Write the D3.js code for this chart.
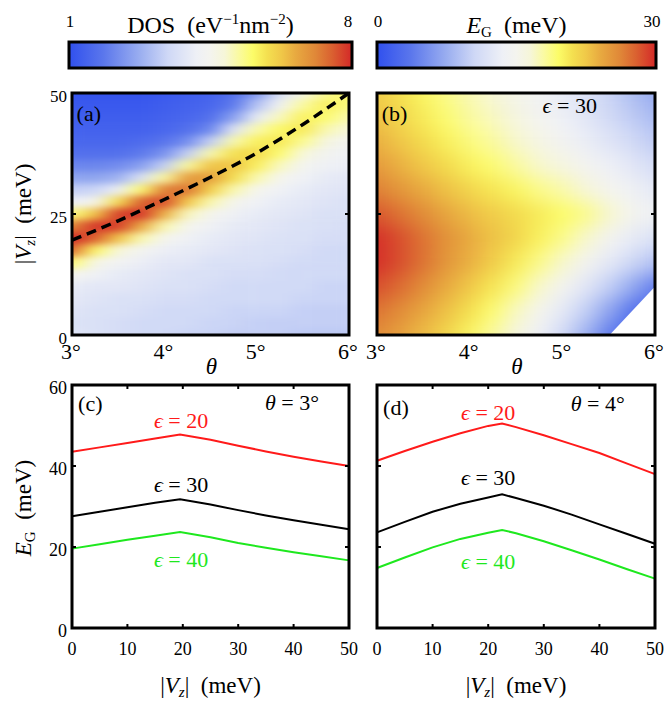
<!DOCTYPE html>
<html>
<head>
<meta charset="utf-8">
<script src="https://cdn.jsdelivr.net/npm/d3@7/dist/d3.min.js"></script>
<style>
body { margin: 0; background: #fff; }
</style>
</head>
<body>
<svg id="canvas"></svg>
<script>
// ---- colour map (shared by both colour bars) ----
const cmapPos = [0, 0.12, 0.25, 0.35, 0.45, 0.5, 0.55, 0.6, 0.65, 0.7, 0.75, 0.8, 0.87, 0.93, 1];
const cmapCol = ["#3050ee", "#5a76ec", "#9aaef0", "#cfd8f6", "#eef0f6", "#f4f4ee", "#f6f6d8",
                 "#fafaa0", "#fcfc68", "#f4e050", "#f0c848", "#e8aa40", "#e08838", "#da6030", "#d42828"];

// ---- panel (a): DOS map, one column per theta, values from Vz = 50 down to 0 ----
const thetaGrid = [3, 3.25, 3.5, 3.75, 4, 4.25, 4.5, 4.75, 5, 5.25, 5.5, 5.75, 6];
const vzGrid = [50, 47.5, 45, 42.5, 40, 37.5, 35, 32.5, 30, 27.5, 25, 22.5, 20, 17.5, 15, 12.5, 10, 7.5, 5, 2.5, 0];
const dosByTheta = [
  [1.1,1.2,1.3,1.4,1.5,1.7,2.1,2.6,3.3,4.1,5.4,7.0,8.0,7.4,5.5,4.5,4.0,3.9,3.8,3.7,3.8],
  [1.1,1.2,1.3,1.4,1.5,1.7,2.1,2.6,3.4,4.5,6.3,7.9,7.5,5.6,4.6,4.2,3.9,3.8,3.7,3.7,3.7],
  [1.1,1.2,1.3,1.4,1.5,1.7,2.2,2.8,4.1,5.9,7.8,7.8,6.3,4.8,4.3,4.0,3.9,3.7,3.7,3.6,3.6],
  [1.1,1.2,1.3,1.4,1.6,1.9,2.5,3.7,5.5,7.5,7.9,6.6,5.1,4.4,4.1,3.9,3.8,3.7,3.6,3.5,3.5],
  [1.2,1.3,1.4,1.5,1.8,2.3,3.3,5.2,7.2,7.7,6.5,5.1,4.5,4.1,3.9,3.8,3.7,3.6,3.5,3.5,3.5],
  [1.3,1.4,1.5,1.7,2.2,3.3,5.2,6.8,7.3,6.2,5.0,4.5,4.2,4.0,3.9,3.7,3.7,3.6,3.5,3.5,3.4],
  [1.4,1.5,1.7,2.1,3.3,5.1,6.3,6.8,6.1,5.1,4.5,4.2,4.0,3.9,3.7,3.7,3.6,3.5,3.5,3.4,3.4],
  [1.7,1.9,2.5,3.8,5.1,5.9,6.3,5.9,5.1,4.5,4.2,4.0,3.9,3.8,3.7,3.6,3.5,3.5,3.4,3.4,3.3],
  [2.4,3.1,4.0,5.1,5.7,6.0,5.7,5.1,4.5,4.2,4.0,3.9,3.8,3.7,3.7,3.6,3.5,3.5,3.4,3.3,3.3],
  [3.7,4.3,5.0,5.6,5.8,5.5,5.0,4.5,4.2,4.0,3.9,3.8,3.7,3.7,3.6,3.5,3.5,3.5,3.4,3.3,3.3],
  [4.6,5.2,5.7,5.8,5.3,4.8,4.4,4.2,4.0,3.9,3.8,3.7,3.7,3.6,3.5,3.5,3.5,3.4,3.3,3.3,3.2],
  [5.3,5.7,5.5,5.1,4.7,4.4,4.2,4.0,3.9,3.8,3.7,3.7,3.6,3.5,3.5,3.5,3.4,3.4,3.3,3.3,3.2],
  [5.6,5.4,5.1,4.8,4.4,4.2,4.1,3.9,3.8,3.7,3.7,3.6,3.6,3.5,3.5,3.5,3.4,3.4,3.3,3.3,3.2]
];
// dashed guide line in (a)
const guideTheta = [3, 3.5, 4, 4.5, 5, 5.5, 6];
const guideVz = [19.6, 23.6, 28.0, 32.6, 37.6, 43.5, 50];

// ---- panel (b): gap map (meV), one row per Vz, columns follow thetaGrid ----
const egVz = [50, 45, 40, 35, 30, 25, 20, 15, 10, 5, 0];
const egByVz = [
  [22.2,21.0,19.8,18.6,17.4,16.5,15.3,14.1,12.9,11.7,10.2, 8.7, 7.2],
  [22.8,21.6,20.4,19.2,18.0,17.1,15.9,14.7,13.5,12.3,10.8, 9.6, 8.4],
  [23.7,22.5,21.3,20.1,18.9,18.0,16.8,15.6,14.4,13.2,12.0,10.8, 9.6],
  [24.9,23.7,22.5,21.3,20.1,19.2,18.0,16.8,15.9,14.7,13.5,12.3,11.1],
  [26.4,25.2,24.0,22.8,21.6,20.7,19.8,18.6,17.7,16.5,15.0,13.8,12.6],
  [28.2,27.0,25.8,24.3,23.1,22.2,21.3,20.4,19.5,18.6,16.8,15.0,13.8],
  [29.7,28.5,27.0,25.5,24.0,22.8,21.6,20.1,18.6,16.8,14.7,12.9,11.7],
  [29.7,28.5,27.0,25.2,23.7,22.2,20.4,18.6,16.8,14.7,12.6,10.5, 9.0],
  [28.5,27.3,25.8,24.0,22.5,20.7,18.9,16.8,14.7,12.3, 9.9, 7.2, 4.2],
  [27.0,25.8,24.3,22.8,21.0,19.2,17.1,15.0,12.6, 9.9, 6.9, 3.6, 1.5],
  [25.8,24.6,23.1,21.6,19.8,18.0,15.9,13.5,10.8, 7.8, 4.2, 1.5, 0.6]
];
// region with no gap (left blank)
const noGapTheta = [5.51, 6, 6];
const noGapVz = [0, 10, 0];

// ---- panels (c) and (d): E_G vs |Vz| ----
const vzC = [0, 5, 10, 15, 19.5, 25, 30, 35, 40, 45, 50];
const egC20 = [43.5, 44.6, 45.7, 46.8, 47.8, 46.5, 45.0, 43.6, 42.3, 41.1, 40.0];
const egC30 = [27.6, 28.7, 29.8, 30.9, 31.8, 30.5, 29.1, 27.8, 26.6, 25.5, 24.4];
const egC40 = [19.6, 20.7, 21.8, 22.8, 23.7, 22.4, 21.0, 19.8, 18.7, 17.7, 16.7];
const vzD = [0, 5, 10, 15, 20, 22.5, 25, 30, 35, 40, 45, 50];
const egD20 = [41.3, 43.7, 46.0, 48.1, 49.9, 50.5, 49.6, 47.6, 45.4, 43.2, 40.6, 38.0];
const egD30 = [23.6, 26.2, 28.7, 30.7, 32.2, 33.0, 32.1, 30.2, 28.0, 25.6, 23.2, 20.8];
const egD40 = [14.8, 17.4, 19.9, 22.0, 23.5, 24.2, 23.4, 21.4, 19.2, 16.9, 14.5, 12.2];

const thetaTicks = [3, 4, 5, 6];
const vzTicksMap = [0, 25, 50];
const vzTicksLine = [0, 10, 20, 30, 40, 50];
const egTicks = [0, 20, 40, 60];

// ---------- layout ----------
const width = 666, height = 701;
const colA = [72, 349], colB = [377, 655];
const rowTop = [335, 93], rowBot = [628, 385];
const serif = '"Liberation Serif", "Times New Roman", serif';

const svg = d3.select('#canvas').attr('width', width).attr('height', height);
const defs = svg.append('defs');

const colourScale = (lo, hi) => d3.scaleLinear()
  .domain(cmapPos.map(p => lo + p * (hi - lo)))
  .range(cmapCol)
  .clamp(true);

const dosColour = colourScale(1, 8);
const egColour = colourScale(0, 30);

// smoothing filter for the maps
const addSmooth = (id, sd) => {
  const f = defs.append('filter').attr('id', id)
    .attr('color-interpolation-filters', 'sRGB');
  f.append('feGaussianBlur').attr('stdDeviation', sd);
  f.append('feComponentTransfer')
    .append('feFuncA').attr('type', 'table').attr('tableValues', '1 1');
};
addSmooth('smoothA', '10 3.5');
addSmooth('smoothB', '10 9');

const addClip = (id, xr, yr) => {
  defs.append('clipPath').attr('id', id).append('rect')
    .attr('x', xr[0]).attr('y', yr[1])
    .attr('width', xr[1] - xr[0]).attr('height', yr[0] - yr[1]);
};
addClip('clipA', colA, rowTop);
addClip('clipB', colB, rowTop);

const grad = defs.append('linearGradient').attr('id', 'cbar');
cmapPos.forEach((p, i) => grad.append('stop').attr('offset', p).attr('stop-color', cmapCol[i]));

const cellEdges = vals => vals.map((v, i) => {
  const prev = i > 0 ? vals[i - 1] : v - (vals[1] - vals[0]);
  const next = i < vals.length - 1 ? vals[i + 1] : v + (v - vals[i - 1]);
  return [(prev + v) / 2, (v + next) / 2];
});

const drawMap = (cells, xScale, yScale, colour, clip, smooth) => {
  const g = svg.append('g').attr('clip-path', `url(#${clip})`)
    .append('g').attr('filter', `url(#${smooth})`);
  g.selectAll('rect').data(cells).enter().append('rect')
    .attr('x', d => xScale(d.x0))
    .attr('y', d => Math.min(yScale(d.y0), yScale(d.y1)))
    .attr('width', d => xScale(d.x1) - xScale(d.x0) + 0.5)
    .attr('height', d => Math.abs(yScale(d.y1) - yScale(d.y0)) + 0.5)
    .attr('fill', d => colour(d.v));
};

const frame = (xr, yr) => {
  svg.append('rect')
    .attr('x', xr[0]).attr('y', yr[1])
    .attr('width', xr[1] - xr[0]).attr('height', yr[0] - yr[1])
    .attr('fill', 'none').attr('stroke', '#000').attr('stroke-width', 3);
};

// plain label, appended straight to the svg
const label = (x, y, str, size, anchor = 'middle', dy = null) => {
  const t = svg.append('text').attr('x', x).attr('y', y)
    .attr('text-anchor', anchor).attr('font-size', size).text(str);
  if (dy) t.attr('dy', dy);
  return t;
};

// rich text helper: parts = [{t, i (italic), s (size), dy}]
const richText = (x, y, parts, opts = {}) => {
  const t = svg.append('text')
    .attr('x', x).attr('y', y)
    .attr('text-anchor', opts.anchor || 'middle')
    .attr('font-size', opts.size || 20)
    .attr('fill', opts.fill || '#000');
  if (opts.rotate) t.attr('transform', `rotate(-90, ${x}, ${y})`);
  parts.forEach(p => {
    const s = t.append('tspan').text(p.t);
    if (p.i) s.attr('font-style', 'italic');
    if (p.s) s.attr('font-size', p.s);
    if (p.dy) s.attr('dy', p.dy);
  });
  return t;
};

// ---------- panel (a) ----------
const xA = d3.scaleLinear().domain([3, 6]).range(colA);
const yA = d3.scaleLinear().domain([0, 50]).range(rowTop);
const thEdges = cellEdges(thetaGrid), vzEdges = cellEdges(vzGrid);
const cellsA = [];
dosByTheta.forEach((col, i) => col.forEach((v, j) => cellsA.push({
  x0: thEdges[i][0], x1: thEdges[i][1], y0: vzEdges[j][0], y1: vzEdges[j][1], v
})));
drawMap(cellsA, xA, yA, dosColour, 'clipA', 'smoothA');

const guideLine = d3.line().x(d => xA(d[0])).y(d => yA(d[1])).curve(d3.curveMonotoneX);
svg.append('path')
  .attr('d', guideLine(guideTheta.map((t, i) => [t, guideVz[i]])))
  .attr('fill', 'none').attr('stroke', '#000')
  .attr('stroke-width', 3.5).attr('stroke-dasharray', '10,6');

// ---------- panel (b) ----------
const xB = d3.scaleLinear().domain([3, 6]).range(colB);
const yB = d3.scaleLinear().domain([0, 50]).range(rowTop);
const egEdges = cellEdges(egVz);
const cellsB = [];
egByVz.forEach((row, j) => row.forEach((v, i) => cellsB.push({
  x0: thEdges[i][0], x1: thEdges[i][1], y0: egEdges[j][0], y1: egEdges[j][1], v
})));
drawMap(cellsB, xB, yB, egColour, 'clipB', 'smoothB');
svg.append('polygon')
  .attr('points', noGapTheta.map((t, i) => [xB(t), yB(noGapVz[i])].join(',')).join(' '))
  .attr('fill', '#fff');

// map axes
[[xA, yA, colA], [xB, yB, colB]].forEach(([xs, ys, cr], k) => {
  thetaTicks.forEach(d => label(xs(d) - 1, ys(0) + 24, d + '°', 22));
  richText((cr[0] + cr[1]) / 2 + 1, ys(0) + 39, [{ t: 'θ', i: true }], { size: 23 });
  [cr[0], cr[1]].forEach((x, s) => {
    svg.append('line').attr('x1', x).attr('x2', x + (s ? -4 : 4))
      .attr('y1', ys(25)).attr('y2', ys(25)).attr('stroke', '#000').attr('stroke-width', 2);
  });
  if (k === 0) {
    vzTicksMap.forEach(d => label(cr[0] - 5, ys(d) + 3, d, 17, 'end', '0.35em'));
  }
});
richText(31, yA(25), [{ t: '|' }, { t: 'V', i: true }, { t: 'z', i: true, s: 15, dy: 4 },
  { t: '|', dy: -4 }, { t: '\u2002(meV)' }], { size: 23, rotate: true });
richText(xA(3.05), yA(44.2), [{ t: '(a)' }], { anchor: 'start', size: 22 });
richText(xB(3.05), yB(44.2), [{ t: '(b)' }], { anchor: 'start', size: 22 });
richText(xB(5.08), yB(45.9), [{ t: 'ϵ', i: true }, { t: ' = 30' }], { size: 22 });

frame(colA, rowTop);
frame(colB, rowTop);

// ---------- colour bars ----------
const bars = [
  { x: [69, 352], lo: '1', hi: '8', title: [{ t: 'DOS\u2002(eV' }, { t: '−1', s: 15, dy: -9 }, { t: 'nm', dy: 9 },
      { t: '−2', s: 15, dy: -9 }, { t: ')', dy: 9 }] },
  { x: [377, 656], lo: '0', hi: '30', title: [{ t: 'E', i: true }, { t: 'G', s: 15, dy: 4 }, { t: '\u2002(meV)', dy: -4 }] }
];
bars.forEach(b => {
  svg.append('rect').attr('x', b.x[0]).attr('y', 42)
    .attr('width', b.x[1] - b.x[0]).attr('height', 26)
    .attr('fill', 'url(#cbar)').attr('stroke', '#000').attr('stroke-width', 3);
  label(b.x[0] + 1, 27, b.lo, 17);
  label(b.x[1] - 4, 27, b.hi, 17);
  richText((b.x[0] + b.x[1]) / 2, 33, b.title, { size: 24 });
});

// ---------- panels (c), (d) ----------
const lineColours = { 20: '#ff1a1a', 30: '#000000', 40: '#1ee81e' };
const linePanels = [
  { xr: colA, vz: vzC, series: [[20, egC20], [30, egC30], [40, egC40]], tag: '(c)', th: '3',
    lab: { 20: [19.7, 49.4], 30: [19.7, 33.6], 40: [19.7, 15.1] }, thPos: [39.7, 53.8], tagPos: [1.1, 53.6], yLabels: true },
  { xr: colB, vz: vzD, series: [[20, egD20], [30, egD30], [40, egD40]], tag: '(d)', th: '4',
    lab: { 20: [20.0, 51.4], 30: [20.0, 35.3], 40: [20.0, 14.6] }, thPos: [39.7, 53.6], tagPos: [1.1, 52.6], yLabels: false }
];
linePanels.forEach(p => {
  const xs = d3.scaleLinear().domain([0, 50]).range(p.xr);
  const ys = d3.scaleLinear().domain([0, 60]).range(rowBot);
  const line = d3.line().x(d => xs(d[0])).y(d => ys(d[1]));
  p.series.forEach(([eps, vals]) => {
    svg.append('path')
      .attr('d', line(p.vz.map((v, i) => [v, vals[i]])))
      .attr('fill', 'none').attr('stroke', lineColours[eps]).attr('stroke-width', 2);
    const [lx, ly] = p.lab[eps];
    richText(xs(lx), ys(ly), [{ t: 'ϵ', i: true }, { t: ' = ' + eps }],
      { size: 22, fill: lineColours[eps] });
  });
  richText(xs(p.thPos[0]), ys(p.thPos[1]), [{ t: 'θ', i: true }, { t: ' = ' + p.th + '°' }], { size: 22 });
  richText(xs(p.tagPos[0]), ys(p.tagPos[1]), [{ t: p.tag }], { anchor: 'start', size: 22 });

  // inward ticks
  const tg = svg.append('g').attr('stroke', '#000').attr('stroke-width', 2);
  vzTicksLine.slice(1, -1).forEach(v => {
    tg.append('line').attr('x1', xs(v)).attr('x2', xs(v)).attr('y1', ys(0)).attr('y2', ys(0) - 4);
    tg.append('line').attr('x1', xs(v)).attr('x2', xs(v)).attr('y1', ys(60)).attr('y2', ys(60) + 4);
  });
  egTicks.slice(1, -1).forEach(v => {
    tg.append('line').attr('x1', p.xr[0]).attr('x2', p.xr[0] + 4).attr('y1', ys(v)).attr('y2', ys(v));
    tg.append('line').attr('x1', p.xr[1]).attr('x2', p.xr[1] - 4).attr('y1', ys(v)).attr('y2', ys(v));
  });

  vzTicksLine.forEach(d => label(xs(d), ys(0) + 27, d, 18));
  if (p.yLabels) {
    egTicks.forEach(d => label(p.xr[0] - 5, ys(d) + 3, d, 18, 'end', '0.35em'));
  }
  richText((p.xr[0] + p.xr[1]) / 2, 693, [{ t: '|' }, { t: 'V', i: true }, { t: 'z', i: true, s: 15, dy: 4 },
    { t: '|', dy: -4 }, { t: '\u2002(meV)' }], { size: 23 });
  frame(p.xr, rowBot);
});
richText(31, 508, [{ t: 'E', i: true }, { t: 'G', s: 15, dy: 4 }, { t: '\u2002(meV)', dy: -4 }], { size: 23, rotate: true });

// serif face on every label
svg.selectAll('text').style('font-family', serif, 'important');
</script>
</body>
</html>
